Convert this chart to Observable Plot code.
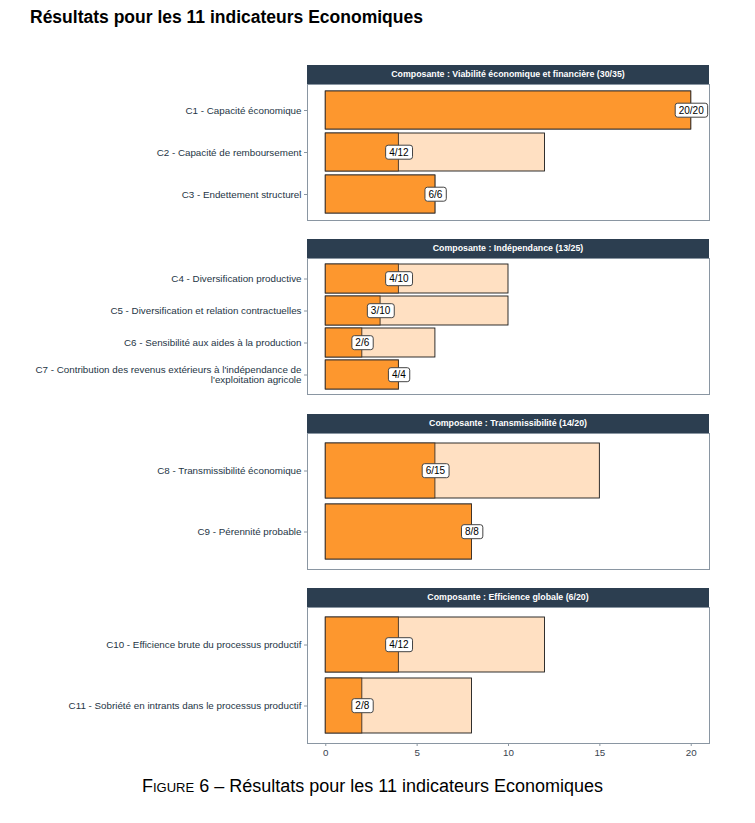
<!DOCTYPE html>
<html>
<head>
<meta charset="utf-8">
<script src="https://cdn.jsdelivr.net/npm/d3@7"></script>
<script src="https://cdn.jsdelivr.net/npm/@observablehq/plot@0.6"></script>
<style>
  body { margin: 0; background: #fff; font-family: "Liberation Sans", Arial, sans-serif; }
  #root { position: relative; width: 755px; height: 823px; }
  .title { position: absolute; left: 30px; top: 7px; font-size: 17.5px; font-weight: bold; color: #000; }
  .strip { position: absolute; left: 307px; width: 402px; height: 19px; background: #2c3e50;
           color: #fff; font-size: 8.8px; font-weight: bold; text-align: center; line-height: 19px; }
  .caption { position: absolute; left: -5px; width: 755px; top: 776px; text-align: center;
             font-size: 18px; color: #000; }
  .sc { font-variant: small-caps; }
</style>
</head>
<body>
<div id="root"></div>
<script>
// ---- data ----
const componentNames = ["Viabilité économique et financière", "Indépendance", "Transmissibilité", "Efficience globale"];
const componentScores = [30, 13, 14, 6];
const componentMax = [35, 25, 20, 20];

const indicators = [
  "C1 - Capacité économique",
  "C2 - Capacité de remboursement",
  "C3 - Endettement structurel",
  "C4 - Diversification productive",
  "C5 - Diversification et relation contractuelles",
  "C6 - Sensibilité aux aides à la production",
  "C7 - Contribution des revenus extérieurs à l'indépendance de\nl'exploitation agricole",
  "C8 - Transmissibilité économique",
  "C9 - Pérennité probable",
  "C10 - Efficience brute du processus productif",
  "C11 - Sobriété en intrants dans le processus productif"
];
const indicatorComponent = [0, 0, 0, 1, 1, 1, 1, 2, 2, 3, 3];
const values = [20, 4, 6, 4, 3, 2, 4, 6, 8, 4, 2];
const maxima = [20, 12, 6, 10, 10, 6, 4, 15, 8, 12, 8];
const xTicks = [0, 5, 10, 15, 20];

const rows = indicators.map((name, i) => ({
  name, comp: indicatorComponent[i], value: values[i], max: maxima[i], label: `${values[i]}/${maxima[i]}`
}));

// ---- layout ----
const root = document.getElementById("root");
const title = document.createElement("div");
title.className = "title";
title.textContent = "Résultats pour les 11 indicateurs Economiques";
root.appendChild(title);

const stripTops = [65, 239, 414, 588];
const bodyH = 136;

componentNames.forEach((cn, k) => {
  const strip = document.createElement("div");
  strip.className = "strip";
  strip.style.top = stripTops[k] + "px";
  strip.textContent = `Composante : ${cn} (${componentScores[k]}/${componentMax[k]})`;
  root.appendChild(strip);

  const data = rows.filter(r => r.comp === k);
  const last = k === componentNames.length - 1;
  const plot = Plot.plot({
    width: 755,
    height: bodyH + (last ? 24 : 0),
    marginLeft: 307,
    marginRight: 46,
    marginTop: 0,
    marginBottom: last ? 24 : 0,
    style: { fontSize: "9.8px", fontFamily: "Liberation Sans, Arial, sans-serif", color: "#253545", background: "transparent", overflow: "visible" },
    x: { domain: [-1, 21], ticks: xTicks, tickSize: 3, tickPadding: 3, label: null, axis: last ? "bottom" : null },
    y: { domain: data.map(d => d.name), paddingInner: 0.1, paddingOuter: 0.15, tickSize: 3, tickPadding: 3, label: null },
    marks: [
      Plot.barX(data, { x: "max", y: "name", fill: "#FFE0C2", stroke: "#1a1a1a", strokeWidth: 0.9 }),
      Plot.barX(data, { x: "value", y: "name", fill: "#FD972E", stroke: "#3a3028", strokeWidth: 0.9 }),
      Plot.frame({ stroke: "#8a96a2", strokeWidth: 1 }),
      Plot.text(data, { x: "value", y: "name", text: "label", fill: "#000", fontSize: 10 })
    ]
  });
  plot.style.position = "absolute";
  plot.style.left = "0px";
  plot.style.overflow = "visible";
  plot.style.top = (stripTops[k] + 19) + "px";
  root.appendChild(plot);

  // grey tick marks
  plot.querySelectorAll('g[aria-label$="tick"] path, g[aria-label$="tick"] line').forEach(p => p.setAttribute("stroke", "#8a96a2"));
  if (last) plot.querySelectorAll('g[aria-label="x-axis tick label"] text').forEach(t => t.setAttribute("fill", "#3a4450"));

  // label boxes behind text
  plot.querySelectorAll('g[aria-label="text"] text').forEach(t => {
    const b = t.getBBox();
    const r = document.createElementNS("http://www.w3.org/2000/svg", "rect");
    r.setAttribute("x", b.x - 3.5);
    r.setAttribute("y", b.y - 1.5);
    r.setAttribute("width", b.width + 7);
    r.setAttribute("height", b.height + 3);
    r.setAttribute("rx", 2.5);
    r.setAttribute("fill", "#fff");
    r.setAttribute("stroke", "#444");
    r.setAttribute("stroke-width", 1);
    const tr = t.getAttribute("transform");
    if (tr) r.setAttribute("transform", tr);
    t.parentNode.insertBefore(r, t);
  });
});

const cap = document.createElement("div");
cap.className = "caption";
cap.innerHTML = '<span class="sc">Figure</span> 6 – Résultats pour les 11 indicateurs Economiques';
root.appendChild(cap);
</script>
</body>
</html>
